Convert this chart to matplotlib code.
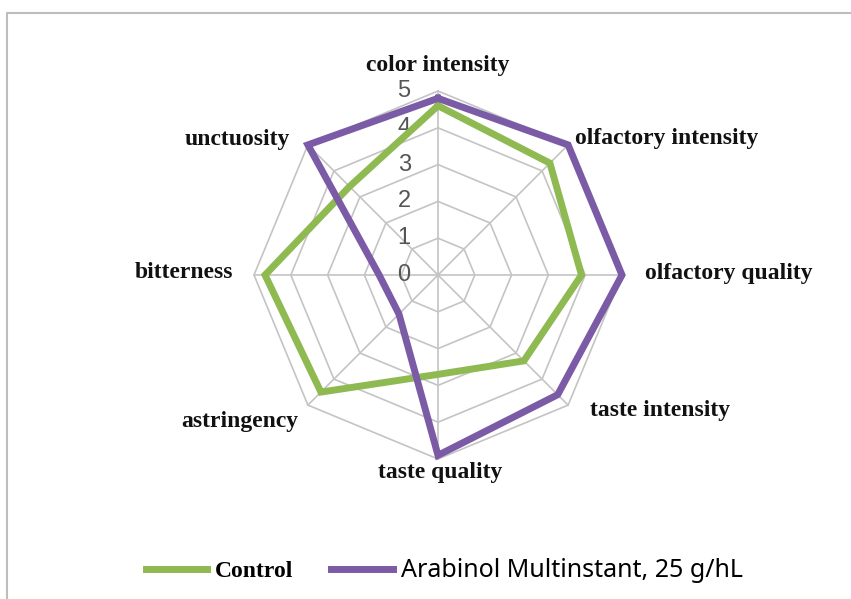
import numpy as np
import matplotlib
matplotlib.use("Agg")
import matplotlib.pyplot as plt
from matplotlib.patches import Rectangle

categories = ["color intensity", "olfactory intensity", "olfactory quality",
              "taste intensity", "taste quality", "astringency",
              "bitterness", "unctuosity"]
control = [4.6, 4.3, 3.9, 3.3, 2.7, 4.5, 4.7, 3.4]
arabinol = [4.8, 5.0, 5.0, 4.6, 4.9, 1.5, 1.6, 5.0]
ticks = [0, 1, 2, 3, 4, 5]
series_names = ["Control", "Arabinol Multinstant, 25 g/hL"]

green = "#8fba52"
purple = "#7b5aa6"
grid_c = "#c4c4c4"

# axis angles, clockwise from top
n = len(categories)
theta = np.arange(n) * 2 * np.pi / n


def to_xy(vals):
    v = np.append(vals, vals[0])
    t = np.append(theta, theta[0])
    return v * np.sin(t), v * np.cos(t)


W, H = 851, 599
fig = plt.figure(figsize=(W / 100, H / 100), dpi=100)
ax = fig.add_axes([0, 0, 1, 1])
# pixel-matched data window: centre at (438, 275), 36.8 px per unit
s = 36.8
cx, cy = 438, 275
ax.set_xlim(-cx / s, (W - cx) / s)
ax.set_ylim(-(H - cy) / s, cy / s)
ax.axis("off")

# octagon grid
for r in ticks[1:]:
    gx, gy = to_xy([r] * n)
    ax.plot(gx, gy, color=grid_c, lw=1.2, zorder=1)
for t in theta:
    ax.plot([0, 5 * np.sin(t)], [0, 5 * np.cos(t)], color=grid_c, lw=1.2, zorder=1)

# tick numbers
for r in ticks:
    ax.text(-0.92, r, str(r), ha="center", va="center", fontsize=17,
            color="#555555", family="Liberation Sans", zorder=3)

# series
lc, = ax.plot(*to_xy(control), color=green, lw=5, zorder=4,
              solid_joinstyle="miter")
la, = ax.plot(*to_xy(arabinol), color=purple, lw=5, zorder=5,
              solid_joinstyle="miter")

# category labels
lab_font = dict(family="Liberation Serif", fontweight="bold", fontsize=17,
                color="#111111")
lab_pos = [(0.0, 5.7, "center"), (3.72, 3.7, "left"), (5.63, 0.03, "left"),
           (4.13, -3.67, "left"), (0.05, -5.38, "center"), (-3.8, -3.97, "right"),
           (-5.57, 0.08, "right"), (-4.02, 3.67, "right")]
for (x, y, ha), name in zip(lab_pos, categories):
    ax.text(x, y, name, ha=ha, va="center", **lab_font)

# legend
leg = fig.legend([lc, la], series_names, loc="center", ncol=2,
                 bbox_to_anchor=(0.522, 0.047), frameon=False,
                 handlelength=2.6, handletextpad=0.34, columnspacing=1.6,
                 fontsize=17)
t0, t1 = leg.get_texts()
t0.set_family("Liberation Serif")
t0.set_fontweight("bold")
t0.set_fontsize(17)
t1.set_family("Noto Sans")
t1.set_fontsize(18)
for h in leg.legend_handles:
    h.set_linewidth(5)

# outer frame (partly off-canvas)
fig.patches.append(Rectangle((7, -50), W + 50, H + 50 - 13, transform=None,
                             fill=False, edgecolor="#bdbdbd", lw=1.5))

fig.savefig("out.png", dpi=100, facecolor="white")
